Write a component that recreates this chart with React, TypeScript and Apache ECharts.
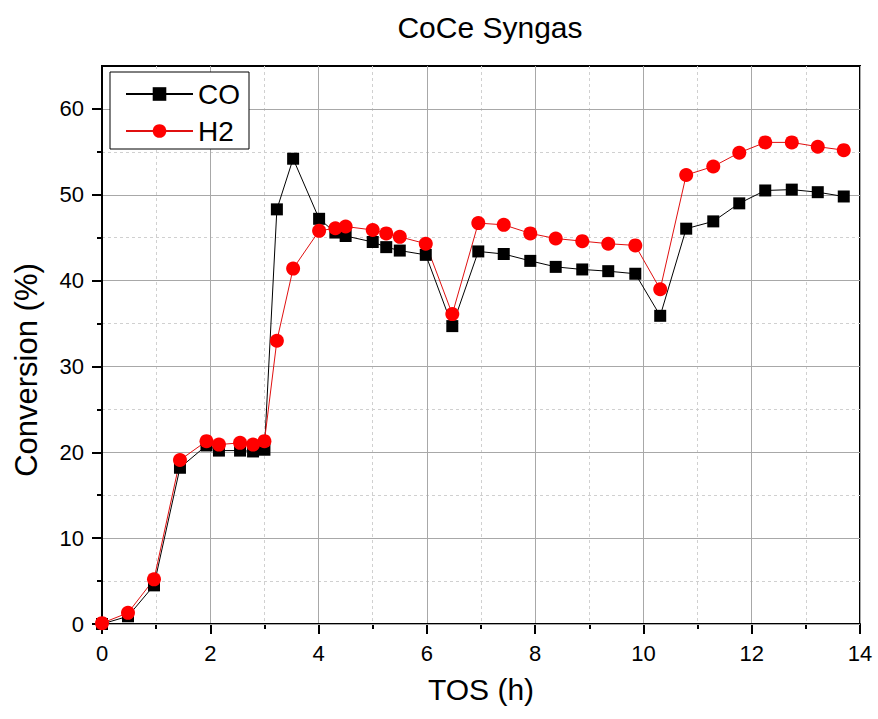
import React, { useEffect, useRef } from "react";
import * as echarts from "echarts";

const tos = [0, 0.48, 0.96, 1.44, 1.93, 2.16, 2.55, 2.79, 3.0, 3.23, 3.53, 4.01, 4.31, 4.5, 5.0, 5.25, 5.5, 5.98, 6.47, 6.95, 7.42, 7.91, 8.38, 8.87, 9.35, 9.85, 10.31, 10.79, 11.29, 11.77, 12.25, 12.74, 13.22, 13.7];
const co = [0, 0.9, 4.5, 18.2, 20.8, 20.2, 20.2, 20.1, 20.3, 48.3, 54.2, 47.2, 45.6, 45.2, 44.5, 43.9, 43.5, 43.0, 34.7, 43.4, 43.1, 42.3, 41.6, 41.3, 41.1, 40.8, 35.9, 46.05, 46.9, 49.0, 50.5, 50.6, 50.3, 49.8];
const h2 = [0.1, 1.3, 5.2, 19.1, 21.3, 20.9, 21.1, 20.9, 21.3, 33.0, 41.4, 45.8, 46.1, 46.3, 45.9, 45.5, 45.1, 44.3, 36.1, 46.7, 46.5, 45.5, 44.9, 44.6, 44.3, 44.1, 39.0, 52.3, 53.3, 54.9, 56.1, 56.1, 55.6, 55.2];
const yMajorTicks = [0, 10, 20, 30, 40, 50, 60];
const yMinorTicks = [5, 15, 25, 35, 45, 55];

const FONT = "'Liberation Sans', Arial, sans-serif";

export default function App() {
  const ref = useRef<HTMLDivElement>(null);
  useEffect(() => {
    if (!ref.current) return;
    const chart = echarts.init(ref.current, null, { renderer: "svg" });
    const toPairs = (ys: number[]) => ys.map((y, i) => [tos[i], y]);
    chart.setOption({
      animation: false,
      backgroundColor: "#ffffff",
      title: {
        text: "CoCe Syngas",
        left: 485,
        textAlign: "center",
        top: 7,
        textStyle: { fontFamily: FONT, fontSize: 30, fontWeight: "normal", color: "#000" },
      },
      graphic: [
        {
          type: "text",
          x: 26,
          y: 370,
          rotation: Math.PI / 2,
          style: {
            text: "Conversion (%)",
            fontFamily: FONT,
            fontSize: 31,
            fill: "#000",
            textAlign: "center",
            textVerticalAlign: "middle",
          },
        },
      ],
      legend: {
        left: 110,
        top: 72,
        orient: "vertical",
        itemWidth: 67,
        itemHeight: 17,
        itemGap: 7,
        padding: [7, 9, 3, 15],
        borderColor: "#000",
        borderWidth: 1,
        backgroundColor: "#fff",
        textStyle: { fontFamily: FONT, fontSize: 28, color: "#000", lineHeight: 30 },
        data: ["CO", "H2"],
      },
      grid: {
        left: 102,
        right: 18,
        top: 66,
        bottom: 95,
        show: true,
        borderColor: "#000",
        borderWidth: 2,
        backgroundColor: "transparent",
      },
      xAxis: {
        type: "value",
        min: 0,
        max: 14,
        interval: 2,
        name: "TOS (h)",
        nameLocation: "middle",
        nameGap: 50,
        nameTextStyle: { fontFamily: FONT, fontSize: 30, color: "#000" },
        axisLine: { show: true, lineStyle: { color: "#000", width: 2 } },
        axisTick: { show: true, length: 10, lineStyle: { color: "#000", width: 2 } },
        minorTick: { show: true, splitNumber: 2, length: 5, lineStyle: { color: "#000", width: 2 } },
        axisLabel: { fontFamily: FONT, fontSize: 22, color: "#000", margin: 18 },
        splitLine: { show: true, lineStyle: { color: "#a8a8a8", width: 1, type: "solid" } },
        minorSplitLine: { show: true, lineStyle: { color: "#d0d0d0", width: 1, type: [3, 3] } },
      },
      yAxis: [
        {
          type: "value",
          min: 0,
          max: 65,
          interval: 5,
          position: "left",
          axisLine: { show: true, lineStyle: { color: "#000", width: 2 } },
          axisTick: { show: true, length: 5, customValues: yMinorTicks, lineStyle: { color: "#000", width: 2 } },
          axisLabel: { show: false },
          splitLine: { show: true, lineStyle: { color: "#d0d0d0", width: 1, type: [3, 3] } },
        },
        {
          type: "value",
          min: 0,
          max: 65,
          interval: 10,
          position: "left",
          offset: 0,
          z: 3,
          axisLine: { show: true, lineStyle: { color: "#000", width: 2 } },
          axisTick: { show: true, length: 10, customValues: yMajorTicks, lineStyle: { color: "#000", width: 2 } },
          axisLabel: { fontFamily: FONT, fontSize: 22, color: "#000", margin: 18, customValues: yMajorTicks },
          splitLine: { show: true, lineStyle: { color: "#a8a8a8", width: 1, type: "solid" } },
        },
      ],
      series: [
        {
          name: "CO",
          type: "line",
          yAxisIndex: 1,
          data: toPairs(co),
          symbol: "rect",
          symbolSize: 12,
          itemStyle: { color: "#000" },
          lineStyle: { color: "#000", width: 1 },
        },
        {
          name: "H2",
          type: "line",
          yAxisIndex: 1,
          data: toPairs(h2),
          symbol: "circle",
          symbolSize: 14,
          itemStyle: { color: "#ff0000" },
          lineStyle: { color: "#e01010", width: 1 },
        },
      ],
    });
    return () => chart.dispose();
  }, []);
  return (
    <div
      ref={ref}
      style={{ position: "fixed", left: 0, top: 0, width: 878, height: 719, background: "#fff" }}
    />
  );
}
